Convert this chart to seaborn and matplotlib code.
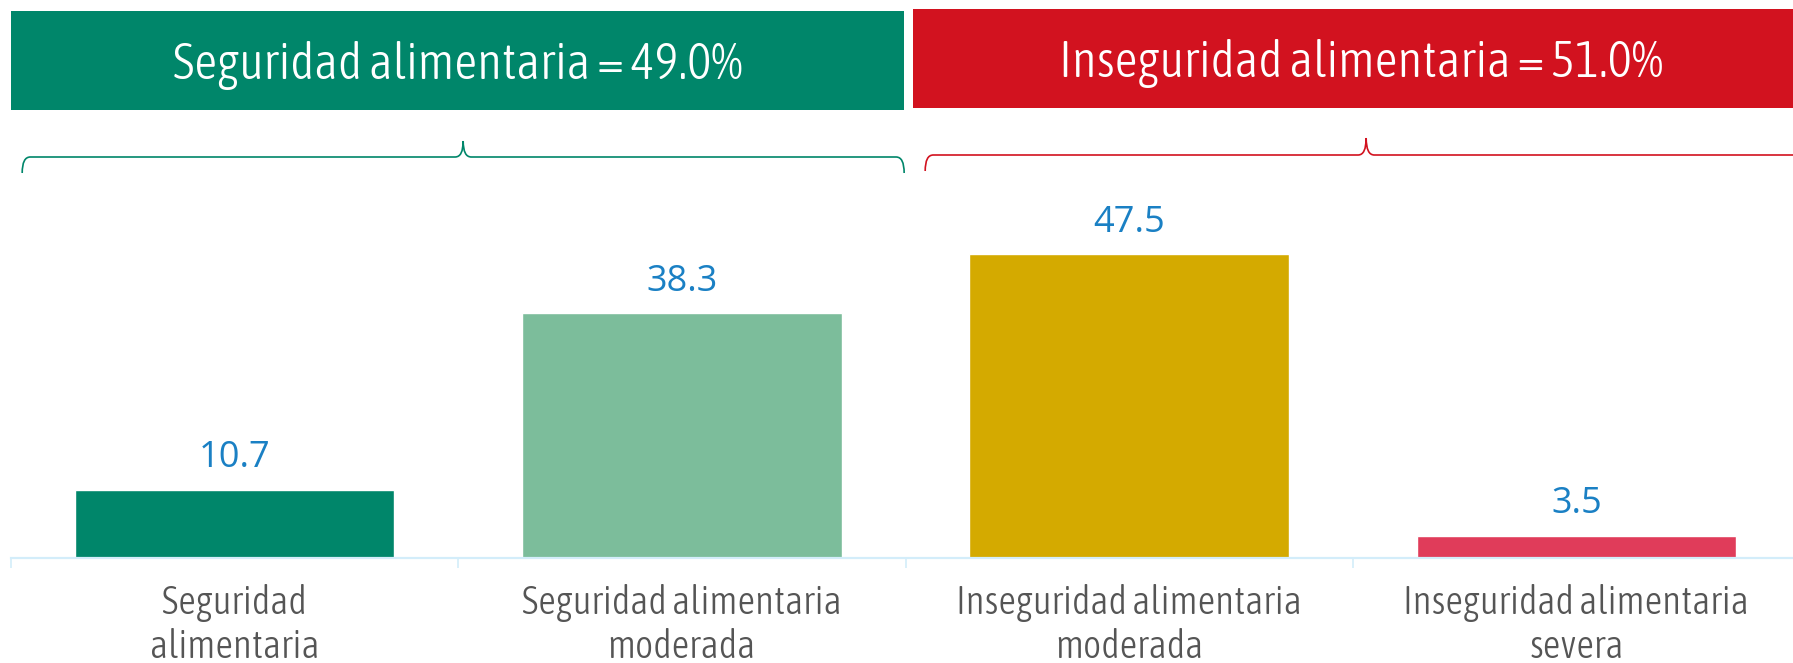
import matplotlib
matplotlib.use("Agg")
import matplotlib.pyplot as plt
from matplotlib import font_manager
from matplotlib.font_manager import FontProperties
from matplotlib.path import Path
from matplotlib.patches import PathPatch, Rectangle
from matplotlib.transforms import blended_transform_factory
import seaborn as sns
import pandas as pd

# ---------------- data ----------------
categories = ["Seguridad\nalimentaria",
              "Seguridad alimentaria\nmoderada",
              "Inseguridad alimentaria\nmoderada",
              "Inseguridad alimentaria\nsevera"]
values = [10.7, 38.3, 47.5, 3.5]
bar_colors = ["#00866a", "#7cbd9b", "#d4aa00", "#e03c5a"]
group_names = ["Seguridad alimentaria", "Inseguridad alimentaria"]
group_totals = [49.0, 51.0]
group_colors = ["#00866a", "#d2121f"]

# ---------------- fonts ----------------
def wnum(w):
    if isinstance(w, (int, float)):
        return w
    return font_manager.weight_dict.get(w, 400)

cands = []
for f in font_manager.fontManager.ttflist:
    nm = f.name
    fn = f.fname.lower()
    is_narrow = ("condensed" in nm.lower() or "narrow" in nm.lower()
                 or "condensed" in fn or "narrow" in fn)
    if is_narrow and f.style == "normal" and wnum(f.weight) <= 400:
        pri = 0 if "open" in nm.lower() else 1
        pri2 = abs(wnum(f.weight) - 300)
        cands.append((pri, pri2, f.fname))
cands.sort()
if cands:
    NARROW = FontProperties(fname=cands[0][2])
else:
    NARROW = FontProperties(family="Open Sans")
available = {f.name for f in font_manager.fontManager.ttflist}
regular = "Open Sans" if "Open Sans" in available else "DejaVu Sans"

sns.set_theme(style="white")
plt.rcParams["font.family"] = [regular, "DejaVu Sans"]

def nprop(size):
    p = NARROW.copy()
    p.set_size(size)
    return p

W, H = 1793, 663
fig = plt.figure(figsize=(W / 100, H / 100), dpi=100)
ax = fig.add_axes([11 / W, (H - 558) / H, 1789 / W, 378 / H])

df = pd.DataFrame({"cat": categories, "val": values})
sns.barplot(data=df, x="cat", y="val", hue="cat", palette=bar_colors,
            width=0.714, legend=False, ax=ax, saturation=1)
ax.set_xlim(-0.5, 3.5)
ax.set_ylim(0, 378 / 6.40)

for s in ["top", "right", "left"]:
    ax.spines[s].set_visible(False)
ax.spines["bottom"].set_color("#d3edfa")
ax.spines["bottom"].set_linewidth(1.6)
ax.set_yticks([])
ax.set_xlabel("")
ax.set_ylabel("")
ax.set_xticks(range(len(categories)))
ax.set_xticklabels(categories, color="#555555", fontproperties=nprop(28),
                   linespacing=1.18)
ax.tick_params(axis="x", which="major", length=0, pad=19)
ax.set_xticks([i - 0.5 for i in range(len(categories) + 1)], minor=True)
ax.tick_params(axis="x", which="minor", length=7.5, width=1.2, color="#d3edfa", bottom=True)

# value labels
for p, v in zip(ax.patches, values):
    ax.annotate(f"{v:.1f}", (p.get_x() + p.get_width() / 2, p.get_height()),
                xytext=(0, 16), textcoords="offset points", ha="center", va="baseline",
                fontsize=26, color="#1a80c4", family=[regular, "DejaVu Sans"])

trans = blended_transform_factory(ax.transData, fig.transFigure)
def fy(px):
    return 1 - px / H

# header boxes
box_specs = [(-0.5, 1.497, 11, 110), (1.517, 3.52, 9, 108)]
for (x0, x1, ytop, ybot), name, tot, col in zip(box_specs, group_names, group_totals, group_colors):
    r = Rectangle((x0, fy(ybot)), x1 - x0, fy(ytop) - fy(ybot), transform=trans,
                  facecolor=col, edgecolor="none", clip_on=False, zorder=2)
    fig.add_artist(r)
    fig.text((x0 + x1) / 2, (fy(ytop) + fy(ybot)) / 2, f"{name} = {tot:.1f}%",
             transform=trans, ha="center", va="center_baseline",
             color="white", fontproperties=nprop(36.5), zorder=5)

# braces
def brace(x0, x1, xt, yh, ye, yt, col):
    d = 0.018
    verts = [(x0, fy(ye)), (x0, fy(yh)), (x0 + d, fy(yh)),
             (xt - d, fy(yh)),
             (xt, fy(yh)), (xt, fy(yt)),
             (xt, fy(yh)), (xt + d, fy(yh)),
             (x1 - d, fy(yh)),
             (x1, fy(yh)), (x1, fy(ye))]
    codes = [Path.MOVETO, Path.CURVE3, Path.CURVE3,
             Path.LINETO,
             Path.CURVE3, Path.CURVE3,
             Path.CURVE3, Path.CURVE3,
             Path.LINETO,
             Path.CURVE3, Path.CURVE3]
    pp = PathPatch(Path(verts, codes), transform=trans, facecolor="none",
                   edgecolor=col, linewidth=1.2, clip_on=False, zorder=3)
    fig.add_artist(pp)

brace(-0.475, 1.497, 0.511, 157, 173, 141, group_colors[0])
brace(1.544, 3.516, 2.53, 155, 171, 138, group_colors[1])

fig.savefig("out.png", dpi=100, facecolor="white")
